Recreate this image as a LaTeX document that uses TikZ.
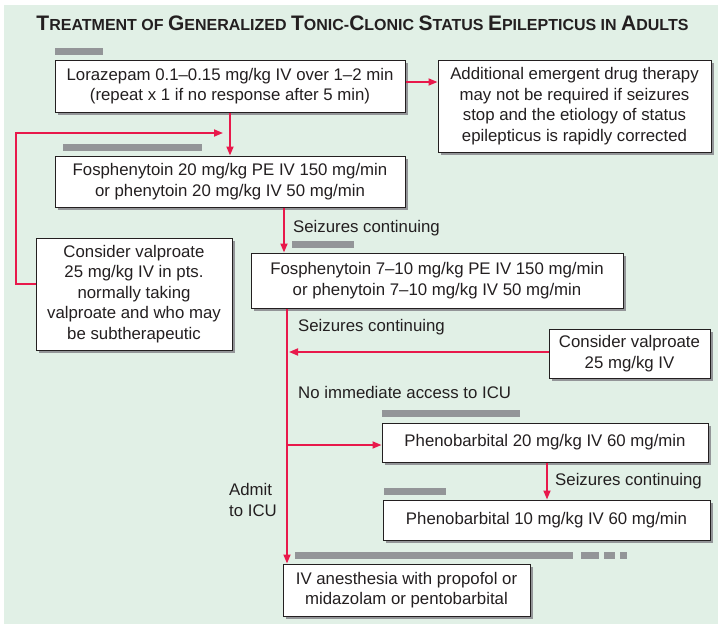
\documentclass[tikz,border=0pt]{standalone}
\usepackage{fontspec}
\setmainfont{Liberation Sans}
\newfontfamily\titlefont{Liberation Sans}
\usetikzlibrary{arrows.meta,shadows}
\definecolor{bgg}{HTML}{E1F0E6}
\definecolor{arrc}{HTML}{E8194B}
\definecolor{barg}{HTML}{939598}
\definecolor{ink}{HTML}{231F20}
\newcommand\Tb[1]{{\fontsize{21}{22}\selectfont #1}}
\newcommand\Ts[1]{{\fontsize{16}{22}\selectfont #1}}
\begin{document}
\begin{tikzpicture}[x=1pt,y=-1pt,
 box/.style={draw=ink, line width=1pt, fill=white, text=ink, align=center, inner sep=0pt,
   font=\fontsize{16.8}{20.5}\selectfont,
   drop shadow={shadow xshift=2.5pt, shadow yshift=-2.5pt, fill=barg, opacity=1}},
 lab/.style={text=ink, inner sep=0pt, font=\fontsize{16.8}{20.5}\selectfont},
 arrow/.style={draw=arrc, line width=1.7pt, -{Triangle[length=9pt,width=7pt]}},
 gbar/.style={fill=barg}]
\useasboundingbox (0,0) rectangle (718,624);
\fill[bgg] (4,5) rectangle (718,624);
% title
\node[text=ink, inner sep=0pt, font=\titlefont\bfseries] (title) at (362.5,23)
 {\Tb{T}\Ts{REATMENT OF }\Tb{G}\Ts{ENERALIZED }\Tb{T}\Ts{ONIC-}\Tb{C}\Ts{LONIC }\Tb{S}\Ts{TATUS }\Tb{E}\Ts{PILEPTICUS IN }\Tb{A}\Ts{DULTS}};
% gray bars
\fill[gbar] (55,48) rectangle (103,55);
\fill[gbar] (63,144) rectangle (202,151);
\fill[gbar] (292,241) rectangle (354,248);
\fill[gbar] (382,410) rectangle (520,417);
\fill[gbar] (384,488) rectangle (446,495);
\fill[gbar] (295,552) rectangle (573,559);
\fill[gbar] (581,552) rectangle (599,559);
\fill[gbar] (604,552) rectangle (615,559);
\fill[gbar] (620,552) rectangle (627,559);
% boxes
\node[box, minimum width=350pt, minimum height=52pt] (lor) at (230,86)
 {Lorazepam 0.1--0.15 mg/kg IV over 1--2 min\\(repeat x 1 if no response after 5 min)};
\node[box, minimum width=273pt, minimum height=92pt] (add) at (574.5,106)
 {Additional emergent drug therapy\\may not be required if seizures\\stop and the etiology of status\\epilepticus is rapidly corrected};
\node[box, minimum width=350pt, minimum height=51pt] (fos1) at (230,181.5)
 {Fosphenytoin 20 mg/kg PE IV 150 mg/min\\or phenytoin 20 mg/kg IV 50 mg/min};
\node[box, minimum width=196pt, minimum height=112pt] (valL) at (134,294)
 {Consider valproate\\25 mg/kg IV in pts.\\normally taking\\valproate and who may\\be subtherapeutic};
\node[box, minimum width=372pt, minimum height=55pt] (fos2) at (437,280.5)
 {Fosphenytoin 7--10 mg/kg PE IV 150 mg/min\\or phenytoin 7--10 mg/kg IV 50 mg/min};
\node[box, minimum width=161pt, minimum height=49pt] (valR) at (629.5,353.5)
 {Consider valproate\\25 mg/kg IV};
\node[box, minimum width=326pt, minimum height=39pt] (ph20) at (545,442.5)
 {Phenobarbital 20 mg/kg IV 60 mg/min};
\node[box, minimum width=327pt, minimum height=40pt] (ph10) at (546.5,520)
 {Phenobarbital 10 mg/kg IV 60 mg/min};
\node[box, minimum width=247pt, minimum height=52pt] (anes) at (406.5,590)
 {IV anesthesia with propofol or\\midazolam or pentobarbital};
% labels
\node[lab, anchor=west] (sc1) at (293,228) {Seizures continuing};
\node[lab, anchor=west] (sc2) at (298,327) {Seizures continuing};
\node[lab, anchor=west] (nia) at (298,392) {No immediate access to ICU};
\node[lab, anchor=west] (sc3) at (555,481) {Seizures continuing};
\node[lab, anchor=west, align=left] (icu) at (229,500) {Admit\\to ICU};
% connectors
\coordinate (loopL) at (16,284);
\coordinate (loopT) at (16,133);
\coordinate (loopE) at (223,133);
\coordinate (br) at (287,445);
\draw[arrow] (lor.east |- 0,82) -- (add.west |- 0,82);
\draw[arrow] (lor.south) -- (fos1.north);
\draw[arrow] (valL.west |- loopL) -- (loopL) -- (loopT) -- (loopE);
\draw[arrow] (fos1.south -| 284,0) -- (fos2.north -| 284,0);
\draw[arrow] (fos2.south -| br) -- (anes.north -| br);
\draw[arrow] (valR.west |- 0,352) -- (289,352);
\draw[arrow] (br) -- (ph20.west |- br);
\draw[arrow] (ph20.south -| 547,0) -- (ph10.north -| 547,0);
\end{tikzpicture}
\end{document}
